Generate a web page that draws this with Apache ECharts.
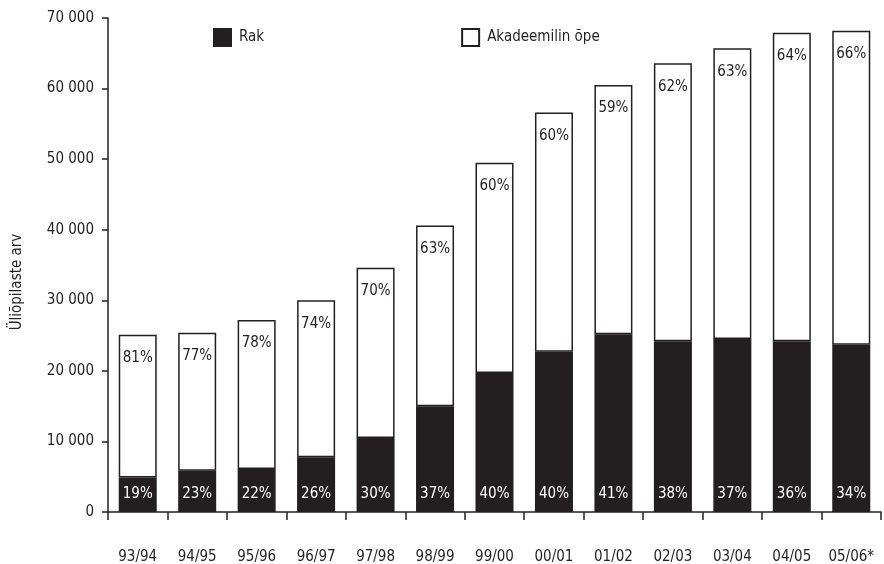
<!DOCTYPE html>
<html><head><meta charset="utf-8">
<script src="https://cdn.jsdelivr.net/npm/echarts@6/dist/echarts.min.js"></script>
<style>html,body{margin:0;padding:0;background:#fff}#c{width:884px;height:564px}</style>
</head><body><div id="c"></div>
<script>
const categories = ['93/94','94/95','95/96','96/97','97/98','98/99','99/00','00/01','01/02','02/03','03/04','04/05','05/06*'];
const rak = [4900, 5850, 6100, 7750, 10500, 15000, 19700, 22700, 25200, 24200, 24500, 24200, 23700];
const akadeemiline = [20200, 19550, 21100, 22250, 24100, 25600, 29800, 33900, 35300, 39400, 41200, 43700, 44500];
const rakPct = [19, 23, 22, 26, 30, 37, 40, 40, 41, 38, 37, 36, 34];
const akadPct = [81, 77, 78, 74, 70, 63, 60, 60, 59, 62, 63, 64, 66];
const yTicks = [0, 10000, 20000, 30000, 40000, 50000, 60000, 70000];

const FONT = '"Liberation Sans Narrow", "DejaVu Sans Condensed", "Roboto Condensed", sans-serif';
const INK = '#231f20';
const chart = echarts.init(document.getElementById('c'), null, {renderer: 'canvas'});
chart.setOption({
  animation: false,
  backgroundColor: '#fff',
  textStyle: {fontFamily: FONT},
  grid: {left: 108, right: 3, top: 18, bottom: 52, containLabel: false, outerBoundsMode: 'none'},
  legend: {
    data: [{name: 'Rak'}, {name: 'Akadeemilin õpe'}],
    top: 28, left: 213, padding: 0,
    itemWidth: 17, itemHeight: 17, itemGap: 197,
    icon: 'rect',
    textStyle: {fontFamily: FONT, fontSize: 15, color: INK, padding: [0, 0, 0, 3]}
  },
  xAxis: {
    type: 'category', data: categories,
    axisLine: {lineStyle: {color: INK, width: 1.5}},
    axisTick: {show: true, alignWithLabel: false, length: 8, lineStyle: {color: INK, width: 1.5}},
    axisLabel: {margin: 38, fontFamily: FONT, fontSize: 15, color: INK, interval: 0}
  },
  yAxis: {
    type: 'value', min: yTicks[0], max: yTicks[yTicks.length - 1], interval: 10000,
    name: 'Üliõpilaste arv', nameLocation: 'middle', nameGap: 83, nameRotate: 90,
    nameTextStyle: {fontFamily: FONT, fontSize: 15, color: INK, padding: [0, 34, 0, 0]},
    axisLine: {show: true, lineStyle: {color: INK, width: 1.5}},
    axisTick: {show: true, length: 6, lineStyle: {color: INK, width: 1.5}},
    splitLine: {show: false},
    axisLabel: {
      margin: 14, fontFamily: FONT, fontSize: 15, color: INK,
      formatter: v => v === 0 ? '0' : String(v).replace(/\B(?=(\d{3})+(?!\d))/g, ' ')
    }
  },
  series: [
    {
      name: 'Rak', type: 'bar', stack: 'total', data: rak, barWidth: 38,
      itemStyle: {color: INK, borderColor: INK, borderWidth: 1.5},
      label: {
        show: true, position: 'insideBottom', distance: 10,
        formatter: p => rakPct[p.dataIndex] + '%',
        color: '#fff', fontFamily: FONT, fontSize: 15
      }
    },
    {
      name: 'Akadeemilin õpe', type: 'bar', stack: 'total', data: akadeemiline, barWidth: 38,
      itemStyle: {color: '#fff', borderColor: INK, borderWidth: 1.5},
      label: {
        show: true, position: 'insideTop', distance: 16,
        formatter: p => akadPct[p.dataIndex] + '%',
        color: INK, fontFamily: FONT, fontSize: 15
      }
    }
  ]
});
</script></body></html>
